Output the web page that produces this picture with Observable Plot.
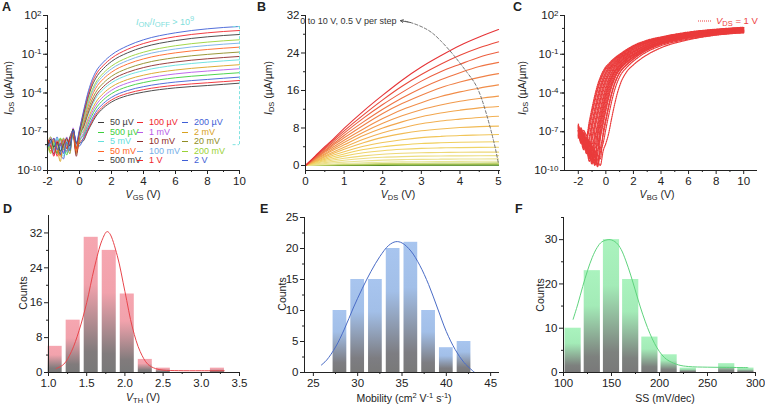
<!DOCTYPE html>
<html>
<head>
<meta charset="utf-8">
<script src="https://cdn.jsdelivr.net/npm/d3@7"></script>
<script src="https://cdn.jsdelivr.net/npm/@observablehq/plot@0.6"></script>
<style>
  body { margin: 0; background: #fff; }
  #fig { position: relative; width: 765px; height: 406px; overflow: hidden;
         font-family: 'Liberation Sans', Arial, Helvetica, sans-serif; color: #222; }
  .lbl { position: absolute; font-size: 10.5px; white-space: nowrap; line-height: 1; }
  .lbl sub { font-size: 7.5px; vertical-align: -2px; line-height: 0; }
  .lbl sup { font-size: 7.5px; vertical-align: 4px; line-height: 0; }
  .yt { transform: translate(-50%, -50%) rotate(-90deg); }
  .xt { transform: translate(-50%, -50%); }
  .tag { position: absolute; font-size: 12.5px; font-weight: bold; line-height: 14px; }
  .legend { position: absolute; display: grid; grid-template-columns: 39px 45px auto;
            grid-auto-rows: 9.5px; font-size: 9px; line-height: 9.5px; }
  .legend .it { display: flex; align-items: center; white-space: nowrap; }
  .legend .sw { display: inline-block; flex: 0 0 6px; width: 6px; height: 1px; margin-right: 6px; }
  .dots { display: inline-block; vertical-align: middle; margin-right: 4px; }
</style>
</head>
<body>
<div id="fig">
  <svg width="0" height="0" style="position:absolute">
    <defs>
      <linearGradient id="gradVth" x1="0" y1="0" x2="0" y2="1">
        <stop offset="0" stop-color="#f6a6b0"/>
        <stop offset="0.35" stop-color="#f1a2ac"/>
        <stop offset="0.85" stop-color="#817b7c"/>
        <stop offset="1" stop-color="#797979"/>
      </linearGradient>
      <linearGradient id="gradMob" x1="0" y1="0" x2="0" y2="1">
        <stop offset="0" stop-color="#a8c5ef"/>
        <stop offset="0.35" stop-color="#a2bfe8"/>
        <stop offset="0.85" stop-color="#7d7d82"/>
        <stop offset="1" stop-color="#797979"/>
      </linearGradient>
      <linearGradient id="gradSS" x1="0" y1="0" x2="0" y2="1">
        <stop offset="0" stop-color="#aaf3be"/>
        <stop offset="0.35" stop-color="#a3ebb7"/>
        <stop offset="0.85" stop-color="#7d817e"/>
        <stop offset="1" stop-color="#797979"/>
      </linearGradient>
    </defs>
  </svg>
</div>
<script>
// ---------- A: transfer curves at several drain biases (log10 of I_DS, µA/µm) ----------
const aGate = [-2,-1.8,-1.6,-1.4,-1.2,-1.0,-0.8,-0.6,-0.4,-0.2,0,0.25,0.5,0.75,1,1.5,2,3,4,6,8,10];
const aBias = ["50 µV","100 µV","200 µV","500 µV","1 mV","2 mV","5 mV","10 mV","20 mV","50 mV","100 mV","200 mV","500 mV","1 V","2 V"];
const aColors = ["#3b3b3b","#f0262e","#3f5fd6","#3ccf3c","#b85ae8","#d9a21e","#62e0dc","#8e2a2a","#8f8d24","#ff6424","#74aee8","#9ad236","#3b3b3b","#f0262e","#3f5fd6"];
const aLogI = [
  [-8.1,-7.6,-8.4,-7.9,-8.8,-7.7,-8.3,-7.4,-6.9,-8.2,-7.9,-7.7,-7.0,-6.4,-5.85,-5.15,-4.7,-4.2,-3.93,-3.6,-3.42,-3.24],
  [-7.8,-8.5,-7.5,-8.9,-7.9,-8.4,-7.6,-8.0,-7.0,-8.6,-7.8,-7.55,-6.9,-6.27,-5.71,-5.0,-4.54,-4.03,-3.74,-3.4,-3.21,-3.03],
  [-8.4,-7.7,-8.2,-7.4,-8.6,-9.1,-7.8,-8.5,-6.8,-7.9,-8.1,-7.44,-6.74,-6.09,-5.51,-4.8,-4.34,-3.81,-3.51,-3.15,-2.95,-2.77],
  [-7.6,-8.3,-7.9,-8.7,-7.5,-8.0,-8.8,-7.7,-7.2,-8.4,-7.7,-7.26,-6.51,-5.82,-5.24,-4.52,-4.05,-3.51,-3.19,-2.82,-2.61,-2.43],
  [-8.2,-7.5,-8.8,-8.0,-7.7,-8.6,-7.4,-8.2,-6.7,-8.0,-7.6,-7.11,-6.31,-5.59,-5.0,-4.27,-3.79,-3.23,-2.91,-2.52,-2.3,-2.12],
  [-7.9,-8.6,-7.6,-8.2,-9.3,-7.8,-8.1,-7.6,-7.1,-8.7,-7.4,-6.95,-6.1,-5.36,-4.76,-4.02,-3.53,-2.96,-2.62,-2.22,-1.99,-1.81],
  [-8.5,-7.8,-8.0,-7.5,-8.3,-8.9,-7.7,-8.4,-6.9,-8.1,-7.5,-6.73,-5.83,-5.06,-4.44,-3.7,-3.21,-2.62,-2.27,-1.85,-1.61,-1.43],
  [-7.7,-8.2,-8.7,-7.9,-7.6,-8.2,-8.5,-7.5,-7.3,-8.9,-7.3,-6.63,-5.68,-4.88,-4.25,-3.5,-3.0,-2.4,-2.03,-1.6,-1.35,-1.17],
  [-8.0,-7.4,-8.3,-8.6,-8.0,-7.5,-8.0,-8.7,-6.8,-8.3,-7.4,-6.44,-5.44,-4.61,-3.98,-3.22,-2.71,-2.1,-1.71,-1.26,-1.01,-0.83],
  [-7.5,-8.1,-7.7,-8.3,-8.9,-8.1,-7.6,-8.0,-7.0,-8.5,-7.3,-6.22,-5.17,-4.31,-3.66,-2.9,-2.39,-1.76,-1.36,-0.89,-0.63,-0.45],
  [-8.3,-7.9,-8.5,-7.6,-8.2,-7.7,-8.6,-7.8,-6.9,-8.0,-7.2,-6.06,-4.96,-4.08,-3.42,-2.65,-2.13,-1.49,-1.07,-0.59,-0.32,-0.14],
  [-7.9,-8.7,-7.8,-8.1,-7.5,-8.4,-7.9,-8.3,-7.1,-8.2,-7.15,-5.96,-4.81,-3.9,-3.23,-2.45,-1.92,-1.26,-0.84,-0.34,-0.06,0.12],
  [-8.1,-7.6,-8.2,-7.8,-8.5,-8.0,-7.5,-8.1,-6.8,-7.9,-7.0,-5.71,-4.51,-3.56,-2.89,-2.1,-1.56,-0.89,-0.45,0.06,0.35,0.53],
  [-7.6,-8.0,-8.9,-7.7,-8.1,-7.6,-8.3,-7.6,-7.0,-8.3,-6.9,-5.55,-4.3,-3.33,-2.64,-1.85,-1.31,-0.62,-0.17,0.36,0.66,0.84],
  [-8.2,-7.8,-7.5,-8.4,-7.9,-8.7,-7.8,-8.4,-6.9,-7.8,-6.8,-5.4,-4.1,-3.1,-2.4,-1.6,-1.05,-0.35,0.12,0.66,0.97,1.15]
];
const aOffLevel = 1e-8;          // off-state floor marked by the on/off bracket

// ---------- B: output curves, V_GS from 0 to 10 V in 0.5 V steps ----------
const bVds = [0,0.25,0.5,0.75,1,1.5,2,2.5,3,3.5,4,4.5,5];
const bVgs = [0,0.5,1,1.5,2,2.5,3,3.5,4,4.5,5,5.5,6,6.5,7,7.5,8,8.5,9,9.5,10];
const bIds = [
  [0,0,0.01,0.01,0.02,0.02,0.03,0.04,0.04,0.04,0.05,0.05,0.05],
  [0,0.01,0.03,0.04,0.05,0.07,0.09,0.11,0.12,0.13,0.14,0.15,0.15],
  [0,0.03,0.06,0.09,0.12,0.17,0.22,0.26,0.29,0.31,0.33,0.34,0.35],
  [0,0.06,0.12,0.17,0.23,0.32,0.39,0.45,0.49,0.52,0.53,0.54,0.55],
  [0,0.11,0.22,0.32,0.42,0.57,0.69,0.76,0.81,0.85,0.87,0.89,0.9],
  [0,0.2,0.39,0.57,0.72,0.97,1.14,1.25,1.31,1.35,1.37,1.39,1.4],
  [0,0.31,0.61,0.88,1.12,1.5,1.75,1.9,1.99,2.03,2.06,2.08,2.1],
  [0,0.43,0.85,1.22,1.55,2.05,2.4,2.6,2.72,2.78,2.82,2.84,2.85],
  [0,0.55,1.07,1.55,2.0,2.7,3.15,3.45,3.65,3.75,3.82,3.86,3.9],
  [0,0.67,1.3,1.9,2.45,3.4,4.0,4.4,4.7,4.85,4.95,5.0,5.05],
  [0,0.8,1.55,2.3,2.95,4.1,4.9,5.5,5.95,6.2,6.4,6.5,6.6],
  [0,0.9,1.8,2.65,3.45,4.85,6.0,6.8,7.4,7.8,8.1,8.3,8.4],
  [0,1.0,2.0,3.0,3.9,5.6,7.0,8.0,8.9,9.5,9.9,10.25,10.5],
  [0,1.15,2.3,3.4,4.4,6.4,8.0,9.3,10.4,11.2,11.8,12.3,12.6],
  [0,1.3,2.5,3.75,4.9,7.1,9.0,10.6,11.9,12.9,13.7,14.3,14.8],
  [0,1.4,2.8,4.1,5.4,7.8,10.0,11.9,13.4,14.7,15.7,16.5,17.2],
  [0,1.5,3.0,4.5,5.9,8.6,11.1,13.2,15.0,16.6,17.8,18.8,19.6],
  [0,1.6,3.2,4.8,6.4,9.3,12.0,14.4,16.5,18.3,19.8,21.1,22.0],
  [0,1.75,3.5,5.2,6.9,10.1,13.0,15.6,18.0,20.0,21.6,23.1,24.2],
  [0,1.9,3.7,5.6,7.4,10.8,14.0,16.9,19.4,21.6,23.5,25.1,26.4],
  [0,2.0,4.0,5.9,7.9,11.6,15.0,18.2,21.0,23.4,25.6,27.4,29.0]
];
// dashed guide through the saturation knees, ending in an arrow at the note
const bArcVds = [2.46,2.72,3.15,3.49,3.84,4.18,4.44,4.66,4.87,5.0];
const bArcIds = [30.9,30.5,29.0,26.7,23.5,19.9,16.7,11.7,5.3,0.3];

// ---------- C: device-to-device transfer curves at V_DS = 1 V (log10 I_DS) ----------
const cGate = [-2,-1.8,-1.6,-1.4,-1.2,-1.0,-0.8,-0.6,-0.4,-0.2,0,0.2,0.4,0.6,0.8,1.0,1.5,2,3,4,6,8,10];
const cLogI = [
  [-6.4,-7.0,-6.9,-7.3,-6.2,-5.15,-4.18,-3.37,-2.77,-2.3,-1.97,-1.74,-1.52,-1.32,-1.15,-1.0,-0.64,-0.33,0.09,0.34,0.72,0.94,1.09],
  [-6.6,-7.3,-7.8,-7.58,-6.48,-5.43,-4.43,-3.58,-2.93,-2.43,-2.06,-1.83,-1.6,-1.4,-1.21,-1.06,-0.7,-0.38,0.04,0.3,0.68,0.91,1.06],
  [-6.9,-7.4,-7.9,-7.6,-6.8,-5.72,-4.7,-3.8,-3.09,-2.56,-2.16,-1.9,-1.67,-1.47,-1.27,-1.12,-0.76,-0.42,0.01,0.27,0.66,0.89,1.04],
  [-7.2,-6.8,-7.5,-8.3,-7.33,-6.23,-5.18,-4.21,-3.4,-2.8,-2.33,-2.0,-1.77,-1.55,-1.35,-1.18,-0.82,-0.46,-0.01,0.26,0.67,0.9,1.05],
  [-7.0,-6.7,-7.6,-8.0,-7.62,-6.52,-5.47,-4.47,-3.62,-2.97,-2.47,-2.1,-1.87,-1.64,-1.44,-1.25,-0.9,-0.52,-0.06,0.21,0.62,0.85,1.0],
  [-6.6,-7.6,-7.2,-7.9,-8.5,-6.85,-5.77,-4.75,-3.85,-3.14,-2.61,-2.21,-1.95,-1.72,-1.52,-1.32,-0.96,-0.59,-0.11,0.17,0.58,0.82,0.97],
  [-7.4,-7.1,-8.1,-7.5,-8.2,-7.37,-6.27,-5.22,-4.25,-3.44,-2.84,-2.37,-2.04,-1.81,-1.59,-1.39,-1.0,-0.63,-0.13,0.18,0.6,0.84,1.0],
  [-6.5,-7.5,-8.2,-7.6,-8.8,-7.66,-6.56,-5.51,-4.51,-3.66,-3.01,-2.51,-2.14,-1.91,-1.68,-1.48,-1.07,-0.71,-0.19,0.13,0.55,0.79,0.95],
  [-6.8,-7.8,-7.3,-8.6,-7.7,-8.9,-6.9,-5.82,-4.8,-3.9,-3.19,-2.66,-2.26,-2.0,-1.77,-1.57,-1.15,-0.79,-0.25,0.08,0.5,0.75,0.91],
  [-7.1,-6.9,-7.7,-8.1,-9.0,-8.0,-7.42,-6.32,-5.27,-4.3,-3.49,-2.89,-2.42,-2.09,-1.86,-1.64,-1.19,-0.83,-0.27,0.09,0.52,0.77,0.93],
  [-7.3,-7.0,-7.9,-8.7,-8.0,-9.1,-7.7,-6.6,-5.55,-4.55,-3.7,-3.05,-2.55,-2.18,-1.95,-1.72,-1.26,-0.9,-0.32,0.05,0.48,0.73,0.9],
  [-6.5,-7.3,-8.0,-7.4,-8.4,-9.3,-8.2,-6.95,-5.87,-4.85,-3.95,-3.24,-2.71,-2.31,-2.05,-1.82,-1.35,-0.99,-0.39,-0.02,0.42,0.68,0.85],
  [-6.7,-7.6,-7.2,-8.2,-8.9,-8.1,-9.3,-7.24,-6.14,-5.09,-4.14,-3.37,-2.82,-2.39,-2.1,-1.87,-1.37,-1.02,-0.41,-0.06,0.43,0.68,0.85],
  [-7.0,-7.7,-7.4,-8.4,-7.9,-8.7,-9.5,-7.47,-6.37,-5.32,-4.35,-3.54,-2.94,-2.47,-2.14,-1.91,-1.39,-1.03,-0.41,-0.02,0.44,0.69,0.86],
  [-7.4,-6.8,-7.7,-8.0,-8.6,-9.4,-8.3,-8.0,-6.66,-5.61,-4.61,-3.76,-3.11,-2.61,-2.24,-2.01,-1.48,-1.1,-0.47,-0.07,0.39,0.65,0.82],
  [-7.3,-6.9,-8.2,-7.6,-8.8,-8.1,-9.0,-8.4,-7.0,-5.92,-4.9,-4.0,-3.29,-2.76,-2.36,-2.1,-1.57,-1.18,-0.53,-0.13,0.34,0.6,0.77],
  [-6.9,-7.7,-8.4,-7.5,-8.5,-8.9,-9.6,-8.7,-7.32,-6.22,-5.17,-4.22,-3.45,-2.9,-2.47,-2.18,-1.64,-1.23,-0.58,-0.17,0.31,0.58,0.76],
  [-6.7,-7.5,-7.1,-7.9,-8.3,-9.2,-8.5,-9.6,-7.53,-6.43,-5.38,-4.41,-3.6,-3.0,-2.53,-2.2,-1.65,-1.23,-0.56,-0.14,0.34,0.62,0.79],
  [-7.5,-7.2,-7.6,-8.5,-7.8,-8.6,-9.4,-8.8,-9.1,-7.05,-5.97,-4.95,-4.05,-3.34,-2.81,-2.41,-1.82,-1.37,-0.68,-0.25,0.25,0.54,0.71],
  [-7.1,-7.3,-7.0,-8.1,-9.3,-8.4,-9.0,-9.5,-8.3,-7.3,-6.2,-5.15,-4.2,-3.43,-2.88,-2.45,-1.82,-1.36,-0.65,-0.21,0.29,0.58,0.75],
  [-6.9,-7.9,-7.5,-8.0,-9.1,-8.3,-8.9,-9.7,-8.6,-7.9,-6.8,-5.75,-4.75,-3.9,-3.25,-2.75,-2.03,-1.53,-0.8,-0.34,0.18,0.5,0.68],
  [-7.2,-7.4,-8.3,-7.7,-8.7,-9.5,-8.4,-9.2,-9.6,-8.5,-7.9,-7.15,-6.07,-5.05,-4.15,-3.44,-2.37,-1.82,-1.04,-0.5,0.12,0.48,0.66]
];

// ---------- D: threshold voltage histogram + Gaussian fit ----------
const vthEdges  = [0.969,1.205,1.441,1.677,1.913,2.149,2.385,2.621,2.857,3.093,3.329];
const vthCounts = [6,12,31,28,18,3,1,0,0,1];
const vthFitX = [1.1,1.2,1.3,1.4,1.5,1.6,1.7,1.765,1.8,1.9,2.0,2.1,2.2,2.3,2.4,2.5,2.7,3.0,3.3];
const vthFitY = [0.9,1.9,4.8,9.6,16.0,24.0,30.3,32.3,31.9,26.8,18.6,10.2,4.8,1.9,0.9,0.55,0.42,0.4,0.4];

// ---------- E: mobility histogram + Gaussian fit ----------
const mobEdges  = [27,29,31,33,35,37,39,41,43];
const mobCounts = [10,15,15,20,21,10,4,5];
const mobFitX = [25.9,26.5,27.5,28.5,29.5,30.5,31.5,32.5,33.5,34.3,35.0,36.0,37.0,38.0,39.0,40.0,41.0,42.0,43.2];
const mobFitY = [1.2,2.0,4.1,7.0,10.4,13.5,16.3,18.7,20.5,21.1,20.9,19.6,17.3,14.2,10.4,6.6,3.7,1.6,0.0];

// ---------- F: subthreshold swing histogram + Gaussian fit ----------
const ssEdges  = [100,120,140,160,180,200,220,240,260,280,300];
const ssCounts = [10,23,30,21,8,4,1,0,2,1];
const ssFitX = [110,115,120,125,130,135,140,148.5,155,160,165,170,175,180,185,190,195,200,205,210,220,230,250,270,292];
const ssFitY = [12.0,15.5,19.4,23.0,26.0,28.2,29.5,30.0,29.3,27.8,25.2,22.0,18.4,14.8,11.6,8.8,6.5,4.7,3.4,2.6,1.7,1.35,1.2,1.15,1.1];

// ---------------------------------------------------------------------------
const FONT = "'Liberation Sans', Arial, Helvetica, sans-serif";
const fig = document.getElementById("fig");
const baseStyle = {fontFamily: FONT, fontSize: "11.5px", color: "#222", background: "none", overflow: "visible"};
const INK = "#222";

// "10^-7" tick strings become 10 with a raised exponent
function superscriptTicks(svg) {
  svg.querySelectorAll("text").forEach(t => {
    const s = t.textContent;
    if (!s.includes("^")) return;
    const [base, exp] = s.split("^");
    t.textContent = base;
    const ts = document.createElementNS("http://www.w3.org/2000/svg", "tspan");
    ts.setAttribute("dy", "-0.45em");
    ts.setAttribute("font-size", "8");
    ts.textContent = exp;
    t.appendChild(ts);
  });
}
function mount(svg, left, top) {
  superscriptTicks(svg);
  svg.style.position = "absolute";
  svg.style.left = left + "px";
  svg.style.top = top + "px";
  fig.appendChild(svg);
}
function axes({xMajor, xMinor, yMajor, yMinor, xFmt, yFmt, xMin, yMin}) {
  return [
    Plot.axisX({ticks: xMajor, tickSize: 4, tickPadding: 2, tickFormat: xFmt, label: null}),
    Plot.axisX({ticks: xMinor, tickSize: 2, tickFormat: () => "", label: null}),
    Plot.axisY({ticks: yMajor, tickSize: 4, tickPadding: 2, tickFormat: yFmt, label: null}),
    Plot.axisY({ticks: yMinor, tickSize: 2, tickFormat: () => "", label: null}),
    Plot.ruleX([xMin], {stroke: INK}),
    Plot.ruleY([yMin], {stroke: INK})
  ];
}
const logFmt = d => "10^" + Math.round(Math.log10(d));
const plainFmt = d => String(d);
const decades = d3.range(-10, 3).map(e => 10 ** e);
const logMajor = [1e-10, 1e-7, 1e-4, 1e-1, 1e2];

// ---- A ----
const aRows = aBias.flatMap((s, k) => aGate.map((v, j) => ({v, i: 10 ** aLogI[k][j], s})));
const aOn = 10 ** aLogI[aLogI.length - 1][aGate.length - 1];
const aMax = aGate[aGate.length - 1];
mount(Plot.plot({
  width: 255, height: 200, marginLeft: 47, marginRight: 16, marginTop: 15, marginBottom: 30,
  style: baseStyle,
  x: {domain: [-2, 10]},
  y: {type: "log", domain: [1e-10, 1e2]},
  color: {domain: aBias, range: aColors},
  marks: [
    Plot.line(aRows, {x: "v", y: "i", z: "s", stroke: "s", strokeWidth: 0.9, curve: "monotone-x"}),
    Plot.ruleX([aMax], {y1: aOffLevel, y2: aOn, stroke: "#7fe3e0", strokeDasharray: "3,2"}),
    Plot.ruleY([aOffLevel, aOn], {x1: aMax - 0.4, x2: aMax, stroke: "#7fe3e0", strokeDasharray: "3,2"}),
    ...axes({xMajor: [-2,0,2,4,6,8,10], xMinor: [-1,1,3,5,7,9], yMajor: logMajor, yMinor: decades,
             xFmt: plainFmt, yFmt: logFmt, xMin: -2, yMin: 1e-10})
  ]
}), 0, 0);

// ---- B ----
const bRows = bVgs.flatMap((g, k) => bVds.map((v, j) => ({v, i: bIds[k][j], g})));
const bArc = bArcVds.map((x, j) => ({x, y: bArcIds[j]}));
mount(Plot.plot({
  width: 255, height: 200, marginLeft: 50, marginRight: 10, marginTop: 15, marginBottom: 30,
  style: baseStyle,
  x: {domain: [0, 5.05]},
  y: {domain: [-1.07, 32]},
  color: {type: "linear", domain: [0, 1, 2, 4.5, 6.5, 8.5, 10],
          range: ["#3e7c1e", "#a4c246", "#e9e69c", "#f0cf5c", "#f2a64e", "#ef7444", "#e63437"], interpolate: "rgb"},
  marks: [
    Plot.line(bRows, {x: "v", y: "i", z: "g", stroke: "g", strokeWidth: 1.1, curve: "monotone-x"}),
    Plot.line(bArc, {x: "x", y: "y", stroke: "#666", strokeWidth: 0.9, strokeDasharray: "3,2", curve: "natural"}),
    Plot.arrow([{x1: bArc[1].x, y1: bArc[1].y, x2: bArc[0].x, y2: bArc[0].y}],
               {x1: "x1", y1: "y1", x2: "x2", y2: "y2", stroke: "#555", strokeWidth: 0.9, headLength: 5}),
    Plot.text([bArc[0]], {x: "x", y: "y", text: () => "0 to 10 V, 0.5 V per step", textAnchor: "end",
                          dx: -4, dy: 0.5, fontSize: 9, fill: "#333"}),
    ...axes({xMajor: [0,1,2,3,4,5], xMinor: [0.5,1.5,2.5,3.5,4.5], yMajor: [0,8,16,24,32], yMinor: [4,12,20,28],
             xFmt: plainFmt, yFmt: plainFmt, xMin: 0, yMin: -1.07})
  ]
}), 255, 0);

// ---- C ----
const cRows = cLogI.flatMap((row, k) => cGate.map((v, j) => ({v, i: 10 ** row[j], k})));
mount(Plot.plot({
  width: 255, height: 200, marginLeft: 54, marginRight: 8, marginTop: 15, marginBottom: 30,
  style: baseStyle,
  x: {domain: [-3, 11]},
  y: {type: "log", domain: [1e-10, 1e2]},
  marks: [
    Plot.line(cRows, {x: "v", y: "i", z: "k", stroke: "#ea3b3b", strokeWidth: 1.2,
                      strokeDasharray: "1.4,0.9", curve: "monotone-x"}),
    ...axes({xMajor: [-2,0,2,4,6,8,10], xMinor: [-1,1,3,5,7,9], yMajor: logMajor, yMinor: decades,
             xFmt: plainFmt, yFmt: logFmt, xMin: -3, yMin: 1e-10})
  ]
}), 510, 0);

// ---- histograms ----
function histogram({edges, counts, fitX, fitY, grad, lineColor, xDomain, yDomain, margins, xMajor, xMinor, yMajor, yMinor, xFmt, inset}) {
  const bins = counts.map((c, j) => ({x1: edges[j], x2: edges[j + 1], c})).filter(d => d.c > 0);
  const fit = fitX.map((x, j) => ({x, y: fitY[j]}));
  return Plot.plot({
    width: 255, height: 206, ...margins,
    style: baseStyle,
    x: {domain: xDomain},
    y: {domain: yDomain},
    marks: [
      Plot.rectY(bins, {x1: "x1", x2: "x2", y: "c", fill: grad, insetLeft: inset, insetRight: inset}),
      Plot.line(fit, {x: "x", y: "y", stroke: lineColor, strokeWidth: 1, curve: "catmull-rom"}),
      ...axes({xMajor, xMinor, yMajor, yMinor, xFmt, yFmt: plainFmt, xMin: xDomain[0], yMin: 0})
    ]
  });
}
mount(histogram({
  edges: vthEdges, counts: vthCounts, fitX: vthFitX, fitY: vthFitY, grad: "url(#gradVth)", lineColor: "#e8464c",
  xDomain: [1.0, 3.5], yDomain: [0, 36],
  margins: {marginLeft: 48, marginRight: 16, marginTop: 15, marginBottom: 34},
  xMajor: [1.0,1.5,2.0,2.5,3.0,3.5], xMinor: [1.25,1.75,2.25,2.75,3.25], yMajor: [0,8,16,24,32], yMinor: [4,12,20,28],
  xFmt: d3.format(".1f"), inset: 2
}), 0, 200);
mount(histogram({
  edges: mobEdges, counts: mobCounts, fitX: mobFitX, fitY: mobFitY, grad: "url(#gradMob)", lineColor: "#4a6cc6",
  xDomain: [24, 46], yDomain: [0, 25],
  margins: {marginLeft: 49, marginRight: 11, marginTop: 17, marginBottom: 34},
  xMajor: [25,30,35,40,45], xMinor: [27.5,32.5,37.5,42.5], yMajor: [0,5,10,15,20,25], yMinor: [2.5,7.5,12.5,17.5,22.5],
  xFmt: plainFmt, inset: 2
}), 255, 200);
mount(histogram({
  edges: ssEdges, counts: ssCounts, fitX: ssFitX, fitY: ssFitY, grad: "url(#gradSS)", lineColor: "#5fd47e",
  xDomain: [100, 300], yDomain: [0, 35],
  margins: {marginLeft: 53, marginRight: 10, marginTop: 17, marginBottom: 34},
  xMajor: [100,150,200,250,300], xMinor: [125,175,225,275], yMajor: [0,10,20,30], yMinor: [5,15,25,35],
  xFmt: plainFmt, inset: 1.5
}), 510, 200);

// ---- legend for A ----
const leg = document.createElement("div");
leg.className = "legend";
leg.style.left = "98px";
leg.style.top = "118px";
aBias.forEach((s, k) => {
  const it = document.createElement("div");
  it.className = "it";
  it.innerHTML = `<span class="sw" style="background:${aColors[k]}"></span><span style="color:${aColors[k]}">${s}</span>`;
  leg.appendChild(it);
});
fig.appendChild(leg);

// ---- titles, panel tags and notes ----
const html = `
  <div class="tag" style="left:2px;top:0px">A</div>
  <div class="tag" style="left:257px;top:0px">B</div>
  <div class="tag" style="left:513px;top:0px">C</div>
  <div class="tag" style="left:3px;top:202px">D</div>
  <div class="tag" style="left:260px;top:202px">E</div>
  <div class="tag" style="left:515px;top:202px">F</div>

  <div class="lbl yt" style="left:8px;top:88px"><i>I</i><sub>DS</sub> (µA/µm)</div>
  <div class="lbl yt" style="left:268px;top:88px"><i>I</i><sub>DS</sub> (µA/µm)</div>
  <div class="lbl yt" style="left:522px;top:88px"><i>I</i><sub>DS</sub> (µA/µm)</div>
  <div class="lbl xt" style="left:143px;top:194px"><i>V</i><sub>GS</sub> (V)</div>
  <div class="lbl xt" style="left:398px;top:194px"><i>V</i><sub>DS</sub> (V)</div>
  <div class="lbl xt" style="left:657px;top:194px"><i>V</i><sub>BG</sub> (V)</div>

  <div class="lbl yt" style="left:23px;top:293px">Counts</div>
  <div class="lbl yt" style="left:282px;top:294px">Counts</div>
  <div class="lbl yt" style="left:540px;top:295px">Counts</div>
  <div class="lbl xt" style="left:143px;top:397px"><i>V</i><sub>TH</sub> (V)</div>
  <div class="lbl xt" style="left:404px;top:398px">Mobility (cm<sup>2</sup> V<sup>-1</sup> s<sup>-1</sup>)</div>
  <div class="lbl xt" style="left:665px;top:398px">SS (mV/dec)</div>

  <div class="lbl" style="left:136px;top:18px;font-size:9px;color:#7fe0dc"><i>I</i><sub>ON</sub>/<i>I</i><sub>OFF</sub> &gt; 10<sup>9</sup></div>
  <div class="lbl" style="left:698px;top:16px;font-size:9.5px;color:#ee4242"><svg class="dots" width="14" height="4"><line x1="0" y1="2" x2="14" y2="2" stroke="#ee4242" stroke-width="1.2" stroke-dasharray="1,1"/></svg><i>V</i><sub>DS</sub> = 1 V</div>
`;
fig.insertAdjacentHTML("beforeend", html);
</script>
</body>
</html>
